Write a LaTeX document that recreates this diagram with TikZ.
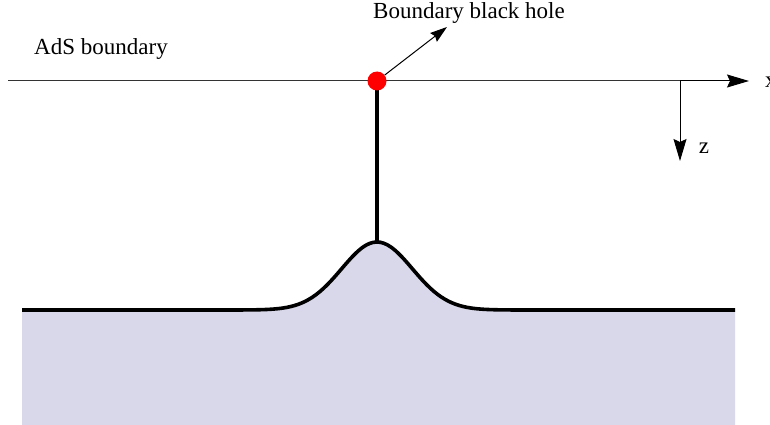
\documentclass[tikz,border=0pt]{standalone}
\usepackage{fontspec}
\setmainfont{Liberation Serif}
\usetikzlibrary{arrows.meta}
\definecolor{bulk}{RGB}{216,216,234}
\tikzset{
  lbl/.style={font=\fontsize{23}{27}\selectfont, inner sep=0pt},
  bigtip/.tip={Stealth[length=22pt,width=13pt,inset=3pt]},
  axisline/.style={line width=1pt, draw=black!80},
  axis/.style={line width=1pt, draw=black, -bigtip},
  thickline/.style={line width=3.6pt, line cap=butt},
}
\begin{document}
\begin{tikzpicture}[x=1pt,y=-1pt]
\useasboundingbox (0,0) rectangle (770,425);
% bulk region
\fill[bulk] plot[domain=22:735,samples=200,smooth] (\x,{310-68*exp(-((\x-377)/50)^2)}) -- (735,425) -- (22,425) -- cycle;
\draw[thickline] plot[domain=22:735,samples=200,smooth] (\x,{310-68*exp(-((\x-377)/50)^2)});
% coordinates
\coordinate (L) at (8,81);
\coordinate (O) at (680,81);
\coordinate (X) at (749,81);
\coordinate (Z) at (680,161);
\coordinate (peak) at (377,242);
\coordinate (tip) at (447,27);
% boundary line and axes
\draw[axisline] (L) -- (O);
\draw[axis] (O) -- (X);
\draw[axis] (O) -- (Z);
\node[lbl, anchor=west] (xl) at (765,82) {x};
\node[lbl] (zl) at (704,148) {z};
% vertical line
\draw[thickline] (peak) -- (377,81);
% black hole
\node[circle, fill=red, minimum size=19pt, inner sep=0pt] (bh) at (377,81) {};
\draw[line width=1pt, -{Stealth[length=17pt,width=11pt,inset=2pt]}] (bh) -- (tip);
% labels
\node[lbl] (bhl) at (469,13) {Boundary black hole};
\node[lbl] (ads) at (101,49) {AdS boundary};
\end{tikzpicture}
\end{document}
